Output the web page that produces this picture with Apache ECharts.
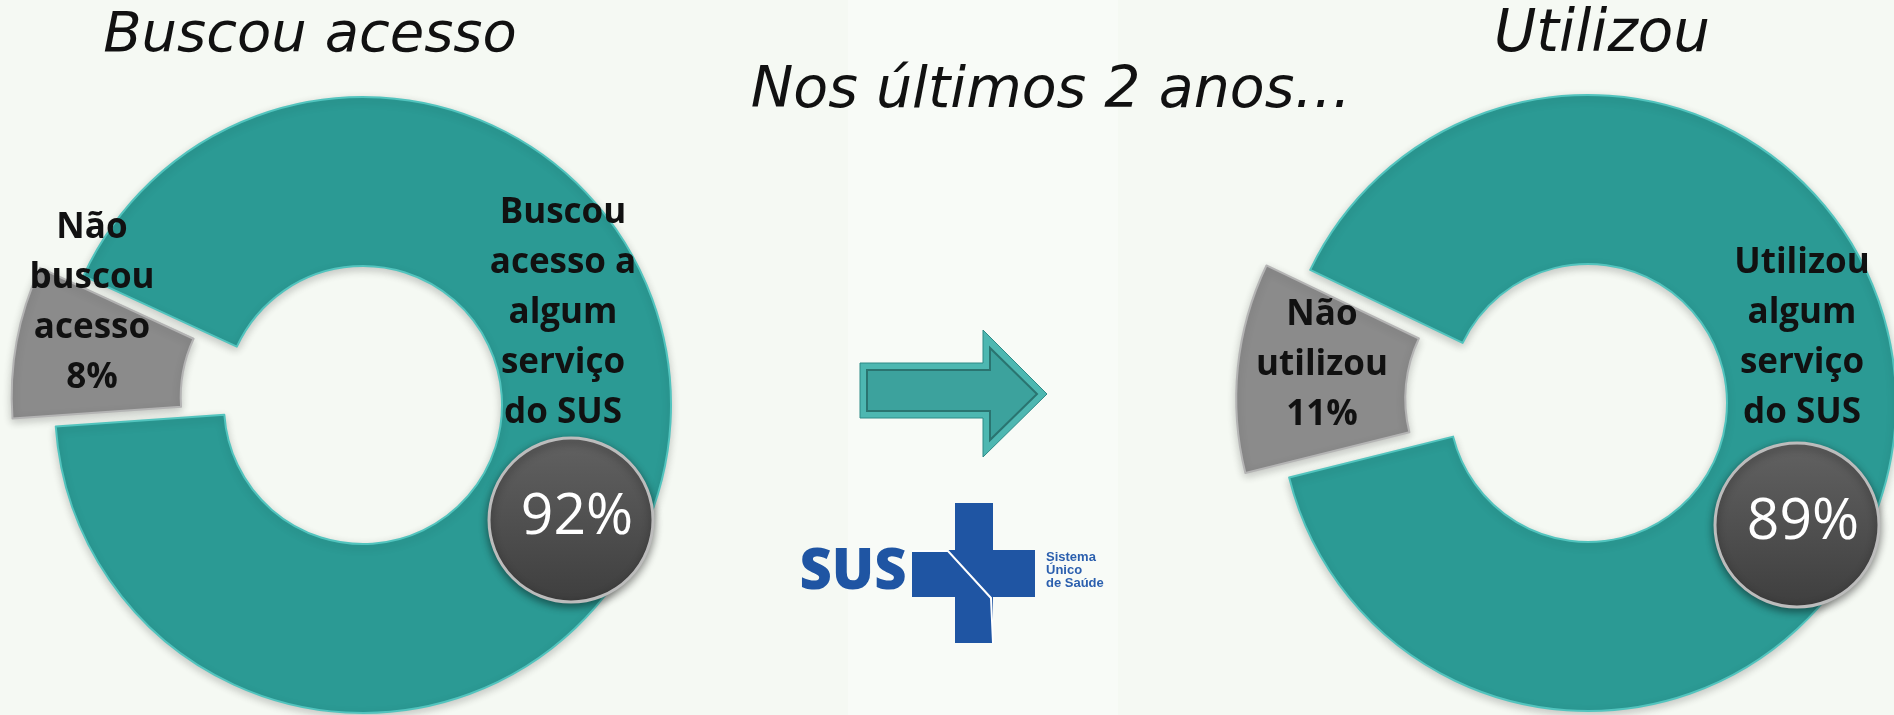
<!DOCTYPE html>
<html>
<head>
<meta charset="utf-8">
<title>Acesso ao SUS</title>
<script src="https://cdn.jsdelivr.net/npm/echarts@6/dist/echarts.min.js"></script>
<style>
  html, body { margin: 0; padding: 0; background: #f5f9f3; }
  #chart { width: 1894px; height: 715px; }
</style>
</head>
<body>
<div id="chart"></div>
<script>
// dados (percentuais, últimos 2 anos)
const leftTitle = 'Buscou acesso'
const rightTitle = 'Utilizou'
const centerTitle = 'Nos últimos 2 anos…'
const leftNames = ['Não\nbuscou\nacesso', 'Buscou\nacesso a\nalgum\nserviço\ndo SUS']
const leftValues = [8, 92]
const rightNames = ['Não\nutilizou', 'Utilizou\nalgum\nserviço\ndo SUS']
const rightValues = [11, 89]

const teal = '#2b9a94'
const grey = '#8b8b8b'

const chart = echarts.init(document.getElementById('chart'))

function donut (names, values, center, startAngle) {
  return {
    type: 'pie',
    center: center,
    radius: [139, 308],
    startAngle: startAngle,
    clockwise: true,
    selectedMode: 'single',
    selectedOffset: 44,
    silent: true,
    label: { show: false },
    labelLine: { show: false },
    emphasis: { disabled: true },
    data: names.map((n, i) => ({
      name: n,
      value: values[i],
      selected: i === 0,
      itemStyle: {
        color: i === 0 ? grey : teal,
        borderColor: i === 0 ? '#b4b4b4' : '#52c4be',
        borderWidth: 2,
        shadowBlur: 8,
        shadowColor: 'rgba(0,0,0,0.2)',
        shadowOffsetY: 3
      }
    }))
  }
}

function labelText (x, y, text) {
  return {
    type: 'text',
    x: x,
    y: y,
    z: 100,
    style: {
      text: text,
      fill: '#111',
      font: 'bold 35px "Open Sans", sans-serif',
      lineHeight: 50,
      align: 'center',
      verticalAlign: 'middle'
    }
  }
}

function badge (cx, cy, value) {
  return [
    {
      type: 'circle',
      z: 100,
      shape: { cx: cx, cy: cy, r: 82 },
      style: {
        fill: new echarts.graphic.LinearGradient(0, 0, 0, 1, [
          { offset: 0, color: '#626262' },
          { offset: 1, color: '#3e3e3e' }
        ]),
        stroke: '#bcbcbc',
        lineWidth: 3,
        shadowBlur: 8,
        shadowColor: 'rgba(0,0,0,0.45)',
        shadowOffsetY: 3
      }
    },
    {
      type: 'text',
      x: cx + 6,
      y: cy - 2,
      z: 101,
      style: {
        text: value + '%',
        fill: '#fff',
        font: '57px "Open Sans", sans-serif',
        align: 'center',
        verticalAlign: 'middle'
      }
    }
  ]
}

function titleText (x, y, text, size) {
  return {
    type: 'text',
    x: x,
    y: y,
    z: 100,
    style: {
      text: text,
      fill: '#111',
      font: 'italic ' + size + 'px "DejaVu Sans", sans-serif',
      align: 'center',
      verticalAlign: 'middle'
    }
  }
}

// seta e logo do SUS
const arrowOuter = [[860, 363], [983, 363], [983, 330], [1047, 394], [983, 457], [983, 418], [860, 418]]
const arrowInner = [[867, 370], [990, 370], [990, 348], [1037, 394], [990, 440], [990, 411], [867, 411]]

const graphics = [
  { type: 'rect', z: -10, shape: { x: 848, y: 0, width: 270, height: 715 }, style: { fill: '#f8fbf7' } },
  titleText(310, 36, leftTitle, 56),
  titleText(1602, 36, rightTitle, 58),
  titleText(1051, 92, centerTitle, 57),
  labelText(92, 303, leftNames[0] + '\n' + leftValues[0] + '%'),
  labelText(563, 313, leftNames[1]),
  labelText(1322, 365, rightNames[0] + '\n' + rightValues[0] + '%'),
  labelText(1802, 338, rightNames[1]),
  ...badge(571, 520, leftValues[1]),
  ...badge(1797, 525, rightValues[1]),
  { type: 'polygon', z: 50, shape: { points: arrowOuter }, style: { fill: '#4db7b1', stroke: '#2f8a86', lineWidth: 1 } },
  { type: 'polygon', z: 51, shape: { points: arrowInner }, style: { fill: '#3ca29d', stroke: '#2a7470', lineWidth: 2 } },
  { type: 'rect', z: 50, shape: { x: 955, y: 503, width: 38, height: 140 }, style: { fill: '#1f55a3' } },
  { type: 'rect', z: 50, shape: { x: 912, y: 550, width: 123, height: 47 }, style: { fill: '#1f55a3' } },
  { type: 'polyline', z: 51, shape: { points: [[912, 551], [948, 551], [991, 598], [993, 643]] }, style: { stroke: '#ffffff', lineWidth: 2, fill: null } },
  {
    type: 'text', x: 853, y: 573, z: 50,
    style: { text: 'SUS', fill: '#1f55a3', font: '800 56px "Open Sans", sans-serif', align: 'center', verticalAlign: 'middle' }
  },
  {
    type: 'text', x: 1046, y: 570, z: 50,
    style: { text: 'Sistema\nÚnico\nde Saúde', fill: '#2b5fae', font: 'bold 13px "Liberation Sans", sans-serif', lineHeight: 13, align: 'left', verticalAlign: 'middle' }
  }
]

chart.setOption({
  backgroundColor: '#f5f9f3',
  animation: false,
  series: [
    donut(leftNames, leftValues, [363, 405], 184),
    donut(rightNames, rightValues, [1588, 403], 194)
  ],
  graphic: graphics
})
</script>
</body>
</html>
